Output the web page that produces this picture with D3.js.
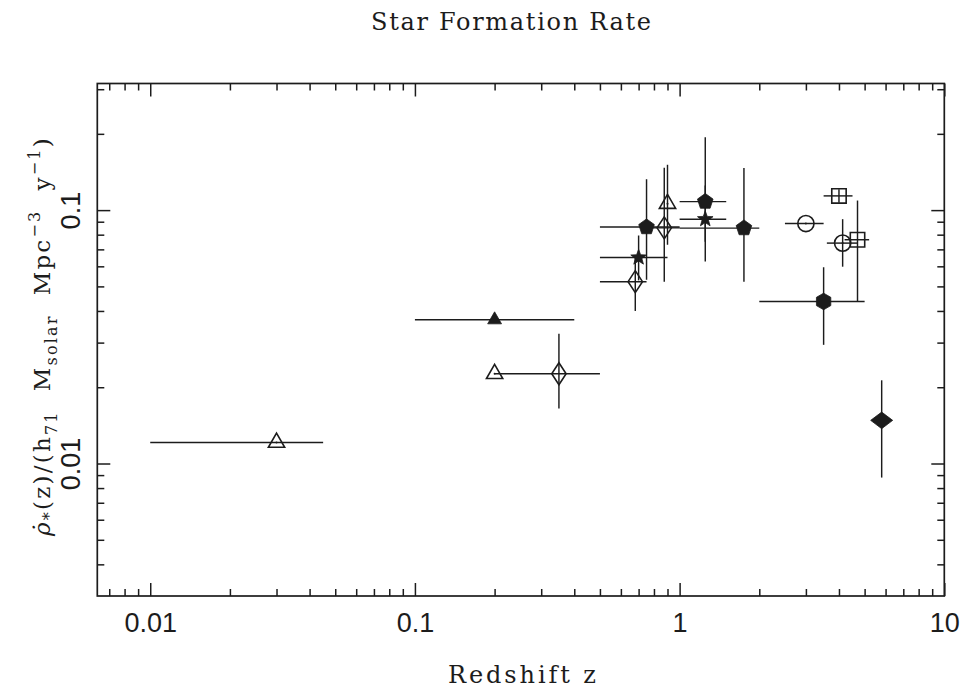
<!DOCTYPE html>
<html>
<head>
<meta charset="utf-8">
<script src="https://cdn.jsdelivr.net/npm/d3@7"></script>
<style>
  html, body { margin: 0; padding: 0; background: #fff; }
  svg { display: block; }
</style>
</head>
<body>
<svg id="chart" width="962" height="690"></svg>
<script>
// ---------------- data ----------------
const titleText = "Star Formation Rate";
const xLabelText = "Redshift z";
const xMajorTicks = [0.01, 0.1, 1, 10];
const xMajorLabels = ["0.01", "0.1", "1", "10"];
const yMajorTicks = [0.01, 0.1];
const yMajorLabels = ["0.01", "0.1"];

// each point: z, rate, optional z range (zlo, zhi), optional rate range (ylo, yhi)
const openTriangles = [
  {z: 0.03, y: 0.0121, zlo: 0.01, zhi: 0.045},
  {z: 0.2, y: 0.0226},
  {z: 0.9, y: 0.106, ylo: 0.073, yhi: 0.151}
];
const filledTriangles = [
  {z: 0.2, y: 0.0369, zlo: 0.1, zhi: 0.4}
];
const openDiamonds = [
  {z: 0.35, y: 0.0226, zlo: 0.2, zhi: 0.5, ylo: 0.0165, yhi: 0.0325},
  {z: 0.68, y: 0.0522, zlo: 0.5, zhi: 0.75, ylo: 0.040, yhi: 0.066},
  {z: 0.875, y: 0.0851, zlo: 0.75, zhi: 1.0, ylo: 0.0522, yhi: 0.147}
];
const filledPentagons = [
  {z: 0.75, y: 0.0857, zlo: 0.5, zhi: 1.0, ylo: 0.0531, yhi: 0.1324},
  {z: 1.25, y: 0.108, zlo: 1.0, zhi: 1.5, ylo: 0.075, yhi: 0.194},
  {z: 1.75, y: 0.0849, zlo: 1.0, zhi: 2.0, ylo: 0.0522, yhi: 0.1465}
];
const filledStars = [
  {z: 0.7, y: 0.065, zlo: 0.5, zhi: 0.9, ylo: 0.0528, yhi: 0.0794},
  {z: 1.25, y: 0.0921, zlo: 1.0, zhi: 1.5, ylo: 0.0627, yhi: 0.125}
];
const openCircles = [
  {z: 3.0, y: 0.0885, zlo: 2.5, zhi: 3.5},
  {z: 4.13, y: 0.0741, zlo: 3.6, zhi: 4.7, ylo: 0.0598, yhi: 0.0921}
];
const openSquares = [
  {z: 4.0, y: 0.1138, zlo: 3.5, zhi: 4.5, ylo: 0.107, yhi: 0.121},
  {z: 4.7, y: 0.0764, zlo: 4.2, zhi: 5.2, ylo: 0.0435, yhi: 0.1091}
];
const filledHexagons = [
  {z: 3.5, y: 0.0436, zlo: 2.0, zhi: 5.0, ylo: 0.0294, yhi: 0.0595}
];
const filledDiamonds = [
  {z: 5.8, y: 0.0148, ylo: 0.0088, yhi: 0.0213}
];

// ---------------- layout ----------------
const INK = "#1c1c1c";
const svg = d3.select("#chart");
const pLeft = 97.3, pRight = 944.3, pTop = 83.5, pBottom = 596;

const x = d3.scaleLog().domain([0.00631, 10]).range([pLeft, pRight]);
const y = d3.scaleLog().domain([0.003, 0.316]).range([pBottom, pTop]);

function minorTicks(scale) {
  const [a, b] = scale.domain();
  const out = [];
  for (let e = Math.floor(Math.log10(a)); e <= Math.ceil(Math.log10(b)); e++) {
    for (let m = 2; m <= 9; m++) {
      const v = m * Math.pow(10, e);
      if (v > a * 1.0001 && v < b * 0.9999) out.push(+v.toPrecision(6));
    }
  }
  return out;
}
const xMinor = minorTicks(x);
const yMinor = minorTicks(y);

function styleAxis(g) {
  g.select(".domain").remove();
  g.selectAll(".tick line").attr("stroke", INK).attr("stroke-width", 1.5);
}

// bottom
svg.append("g").attr("transform", `translate(0,${pBottom})`)
  .call(d3.axisBottom(x).tickValues(xMajorTicks).tickSize(-13).tickSizeOuter(0).tickPadding(17)
        .tickFormat((d, i) => xMajorLabels[i]))
  .call(styleAxis)
  .call(g => g.selectAll("text").attr("fill", INK)
        .style("font-family", "'Liberation Sans', Arial, sans-serif").style("font-size", "27px"));
svg.append("g").attr("transform", `translate(0,${pBottom})`)
  .call(d3.axisBottom(x).tickValues(xMinor).tickSize(-7).tickSizeOuter(0).tickFormat(""))
  .call(styleAxis);
// top
svg.append("g").attr("transform", `translate(0,${pTop})`)
  .call(d3.axisTop(x).tickValues(xMajorTicks).tickSize(-13).tickSizeOuter(0).tickFormat(""))
  .call(styleAxis);
svg.append("g").attr("transform", `translate(0,${pTop})`)
  .call(d3.axisTop(x).tickValues(xMinor).tickSize(-7).tickSizeOuter(0).tickFormat(""))
  .call(styleAxis);
// left
svg.append("g").attr("transform", `translate(${pLeft},0)`)
  .call(d3.axisLeft(y).tickValues(yMajorTicks).tickSize(-13).tickSizeOuter(0)
        .tickFormat((d, i) => yMajorLabels[i]))
  .call(styleAxis)
  .call(g => g.selectAll("text")
        .attr("x", null).attr("dy", null)
        .attr("transform", "translate(-17.5,0) rotate(-90)")
        .attr("text-anchor", "middle").attr("fill", INK)
        .style("font-family", "'Liberation Sans', Arial, sans-serif").style("font-size", "27px"));
svg.append("g").attr("transform", `translate(${pLeft},0)`)
  .call(d3.axisLeft(y).tickValues(yMinor).tickSize(-7).tickSizeOuter(0).tickFormat(""))
  .call(styleAxis);
// right
svg.append("g").attr("transform", `translate(${pRight},0)`)
  .call(d3.axisRight(y).tickValues(yMajorTicks).tickSize(-13).tickSizeOuter(0).tickFormat(""))
  .call(styleAxis);
svg.append("g").attr("transform", `translate(${pRight},0)`)
  .call(d3.axisRight(y).tickValues(yMinor).tickSize(-7).tickSizeOuter(0).tickFormat(""))
  .call(styleAxis);

// frame
svg.append("rect").attr("x", pLeft).attr("y", pTop)
  .attr("width", pRight - pLeft).attr("height", pBottom - pTop)
  .attr("fill", "none").attr("stroke", INK).attr("stroke-width", 1.7);

// ---------------- marker shapes ----------------
function polygon(n, R, rot) {
  const p = d3.path();
  for (let i = 0; i < n; i++) {
    const a = rot + i * 2 * Math.PI / n;
    const px = R * Math.sin(a), py = -R * Math.cos(a);
    if (i === 0) p.moveTo(px, py); else p.lineTo(px, py);
  }
  p.closePath();
  return p.toString();
}
function starPath(Ro, Ri) {
  const p = d3.path();
  for (let i = 0; i < 10; i++) {
    const a = i * Math.PI / 5;
    const r = i % 2 === 0 ? Ro : Ri;
    const px = r * Math.sin(a), py = -r * Math.cos(a);
    if (i === 0) p.moveTo(px, py); else p.lineTo(px, py);
  }
  p.closePath();
  return p.toString();
}
function diamondPath(hw, hh) {
  return `M0,${-hh}L${hw},0L0,${hh}L${-hw},0Z`;
}
function squarePath(h) {
  return `M${-h},${-h}H${h}V${h}H${-h}Z`;
}
function circlePath(r) {
  const p = d3.path(); p.arc(0, 0, r, 0, 2 * Math.PI); p.closePath(); return p.toString();
}

const gErr = svg.append("g").attr("stroke", INK).attr("stroke-width", 1.45).attr("fill", "none");
const gMk = svg.append("g");

function drawSeries(data, shape, filled, centerDot) {
  data.forEach(d => {
    if (d.zlo !== undefined) gErr.append("line")
      .attr("x1", x(d.zlo)).attr("x2", x(d.zhi)).attr("y1", y(d.y)).attr("y2", y(d.y));
    if (d.ylo !== undefined) gErr.append("line")
      .attr("x1", x(d.z)).attr("x2", x(d.z)).attr("y1", y(d.ylo)).attr("y2", y(d.yhi));
  });
  gMk.selectAll(null).data(data).enter().append("path")
    .attr("transform", d => `translate(${x(d.z)},${y(d.y)})`)
    .attr("d", shape)
    .attr("fill", filled ? INK : "none")
    .attr("stroke", INK).attr("stroke-width", filled ? 0.8 : 1.6)
    .attr("stroke-linejoin", "miter");
  if (centerDot) gMk.selectAll(null).data(data).enter().append("circle")
    .attr("cx", d => x(d.z)).attr("cy", d => y(d.y)).attr("r", 1).attr("fill", INK);
}

drawSeries(openTriangles, polygon(3, 9.4, 0), false, true);
drawSeries(filledTriangles, polygon(3, 8.0, 0), true, false);
drawSeries(openDiamonds, diamondPath(7.2, 11), false, false);
drawSeries(filledPentagons, polygon(5, 8.2, 0), true, false);
drawSeries(filledStars, starPath(8.2, 3.4), true, false);
drawSeries(openCircles, circlePath(8.1), false, true);
drawSeries(openSquares, squarePath(7.2), false, false);
drawSeries(filledHexagons, polygon(6, 8.3, 0), true, false);
drawSeries(filledDiamonds, diamondPath(11, 8.3), true, false);

// ---------------- texts ----------------
const serif = "'DejaVu Serif', 'Liberation Serif', serif";
svg.append("text").attr("x", 511).attr("y", 30).attr("text-anchor", "middle")
  .attr("fill", INK).style("font-family", serif).style("font-size", "24px")
  .attr("textLength", 280).attr("lengthAdjust", "spacing")
  .text(titleText);

svg.append("text").attr("x", 522).attr("y", 683).attr("text-anchor", "middle")
  .attr("fill", INK).style("font-family", serif).style("font-size", "24px")
  .attr("textLength", 148).attr("lengthAdjust", "spacing")
  .text(xLabelText);

// y label
const yl = svg.append("text")
  .attr("transform", "translate(50,336) rotate(-90)")
  .attr("text-anchor", "middle").attr("fill", INK)
  .style("font-family", serif).style("font-size", "23px").style("white-space", "pre");
const parts = [
  {t: "\u03C1\u0307", dy: 0, italic: true},
  {t: "*", dy: 5, small: true},
  {t: "(z)/(h", dy: -5},
  {t: "71", dy: 7, small: true},
  {t: "  M", dy: -7},
  {t: "solar", dy: 7, small: true},
  {t: "  Mpc", dy: -7},
  {t: "\u22123", dy: -10, small: true},
  {t: "  y", dy: 10},
  {t: "\u22121", dy: -10, small: true},
  {t: ")", dy: 10}
];
parts.forEach(p => {
  const ts = yl.append("tspan").attr("dy", p.dy).text(p.t);
  if (p.small) ts.style("font-size", "16px");
  if (p.italic) ts.style("font-style", "italic");
});
// stretch spacing so the label spans the same length as in the reference
const targetLen = 402;
const nChars = parts.reduce((s, p) => s + p.t.length, 0);
const natural = yl.node().getComputedTextLength();
yl.style("letter-spacing", `${Math.max(0, (targetLen - natural) / nChars)}px`);
</script>
</body>
</html>
